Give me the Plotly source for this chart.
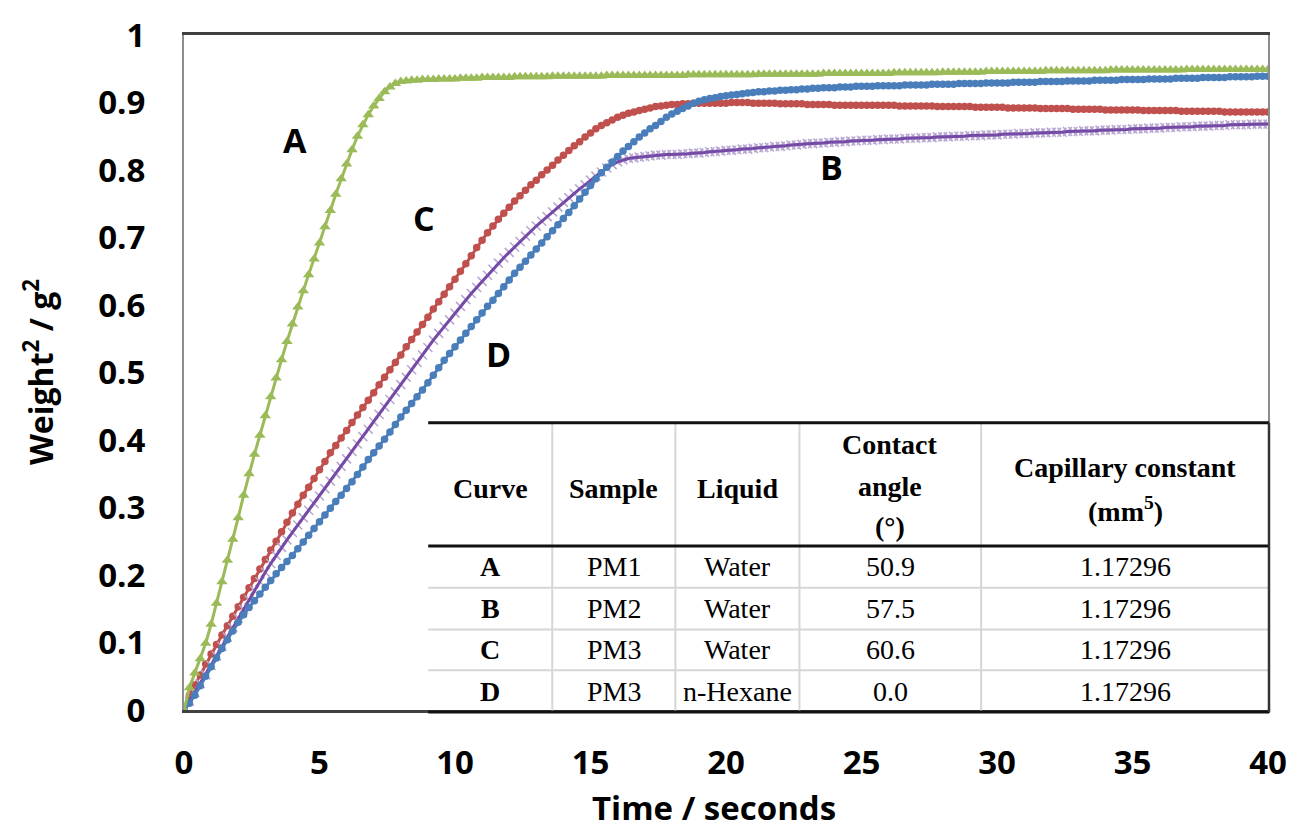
import plotly.graph_objects as go

# Sampling times (s), one reading every 0.2 s
time_s = [round(0.2 * i, 1) for i in range(201)]

# Weight^2 (g^2) readings for each curve
curve_a = [
    0.000, 0.033, 0.055, 0.076, 0.099, 0.127, 0.158, 0.190, 0.222, 0.253,
    0.285, 0.318, 0.350, 0.379, 0.407, 0.436, 0.464, 0.492, 0.519, 0.546,
    0.572, 0.597, 0.621, 0.645, 0.668, 0.692, 0.716, 0.740, 0.764, 0.787,
    0.809, 0.830, 0.850, 0.867, 0.882, 0.895, 0.906, 0.916, 0.923, 0.928,
    0.931, 0.932, 0.933, 0.933, 0.934, 0.934, 0.934, 0.935, 0.935, 0.935,
    0.935, 0.936, 0.936, 0.936, 0.936, 0.937, 0.937, 0.937, 0.937, 0.937,
    0.937, 0.938, 0.938, 0.938, 0.938, 0.938, 0.938, 0.938, 0.939, 0.939,
    0.939, 0.939, 0.939, 0.939, 0.939, 0.939, 0.939, 0.939, 0.940, 0.940,
    0.940, 0.940, 0.940, 0.940, 0.940, 0.940, 0.940, 0.940, 0.940, 0.940,
    0.940, 0.940, 0.940, 0.941, 0.941, 0.941, 0.941, 0.941, 0.941, 0.941,
    0.941, 0.941, 0.941, 0.941, 0.941, 0.941, 0.942, 0.942, 0.942, 0.942,
    0.942, 0.942, 0.942, 0.942, 0.942, 0.942, 0.942, 0.942, 0.943, 0.943,
    0.943, 0.943, 0.943, 0.943, 0.943, 0.943, 0.943, 0.943, 0.943, 0.943,
    0.943, 0.944, 0.944, 0.944, 0.944, 0.944, 0.944, 0.944, 0.944, 0.944,
    0.945, 0.945, 0.945, 0.945, 0.945, 0.945, 0.945, 0.945, 0.946, 0.946,
    0.946, 0.946, 0.946, 0.946, 0.946, 0.946, 0.946, 0.946, 0.946, 0.947,
    0.947, 0.947, 0.947, 0.947, 0.947, 0.947, 0.947, 0.947, 0.947, 0.947,
    0.947, 0.948, 0.948, 0.948, 0.948, 0.948, 0.948, 0.948, 0.948, 0.948,
    0.948, 0.948, 0.948, 0.948, 0.948, 0.949, 0.949, 0.949, 0.949, 0.949,
    0.949, 0.949, 0.949, 0.949, 0.949, 0.949, 0.949, 0.949, 0.949, 0.949,
    0.949,
]

curve_b = [
    0.000, 0.013, 0.026, 0.039, 0.052, 0.066, 0.080, 0.094, 0.108, 0.122,
    0.136, 0.149, 0.163, 0.177, 0.190, 0.204, 0.217, 0.229, 0.241, 0.252,
    0.263, 0.274, 0.285, 0.296, 0.306, 0.317, 0.328, 0.339, 0.350, 0.361,
    0.372, 0.383, 0.394, 0.405, 0.416, 0.427, 0.438, 0.449, 0.460, 0.471,
    0.482, 0.493, 0.504, 0.515, 0.526, 0.537, 0.548, 0.558, 0.568, 0.578,
    0.588, 0.598, 0.608, 0.617, 0.626, 0.635, 0.644, 0.653, 0.662, 0.670,
    0.678, 0.686, 0.694, 0.702, 0.710, 0.717, 0.724, 0.731, 0.738, 0.745,
    0.752, 0.759, 0.765, 0.772, 0.778, 0.785, 0.791, 0.797, 0.803, 0.808,
    0.812, 0.815, 0.817, 0.818, 0.819, 0.820, 0.821, 0.822, 0.822, 0.823,
    0.823, 0.823, 0.824, 0.824, 0.825, 0.825, 0.826, 0.827, 0.827, 0.828,
    0.829, 0.829, 0.830, 0.831, 0.831, 0.832, 0.833, 0.833, 0.834, 0.835,
    0.835, 0.836, 0.837, 0.837, 0.838, 0.839, 0.839, 0.840, 0.840, 0.841,
    0.841, 0.842, 0.842, 0.843, 0.843, 0.844, 0.844, 0.844, 0.845, 0.845,
    0.846, 0.846, 0.846, 0.847, 0.847, 0.847, 0.848, 0.848, 0.848, 0.849,
    0.849, 0.849, 0.850, 0.850, 0.850, 0.851, 0.851, 0.851, 0.852, 0.852,
    0.852, 0.853, 0.853, 0.853, 0.854, 0.854, 0.854, 0.855, 0.855, 0.855,
    0.856, 0.856, 0.856, 0.857, 0.857, 0.857, 0.858, 0.858, 0.858, 0.859,
    0.859, 0.859, 0.860, 0.860, 0.860, 0.861, 0.861, 0.861, 0.862, 0.862,
    0.862, 0.863, 0.863, 0.863, 0.864, 0.864, 0.864, 0.865, 0.865, 0.865,
    0.866, 0.866, 0.866, 0.867, 0.867, 0.867, 0.867, 0.868, 0.868, 0.868,
    0.868,
]

curve_c = [
    0.000, 0.022, 0.037, 0.052, 0.068, 0.083, 0.097, 0.111, 0.125, 0.139,
    0.153, 0.167, 0.181, 0.195, 0.209, 0.223, 0.237, 0.250, 0.264, 0.278,
    0.292, 0.305, 0.318, 0.330, 0.343, 0.356, 0.368, 0.381, 0.392, 0.403,
    0.414, 0.426, 0.437, 0.448, 0.459, 0.470, 0.482, 0.493, 0.504, 0.515,
    0.526, 0.538, 0.549, 0.560, 0.571, 0.582, 0.594, 0.605, 0.616, 0.627,
    0.638, 0.650, 0.661, 0.673, 0.685, 0.696, 0.707, 0.717, 0.727, 0.736,
    0.745, 0.754, 0.762, 0.770, 0.778, 0.785, 0.793, 0.800, 0.807, 0.815,
    0.822, 0.829, 0.836, 0.842, 0.849, 0.855, 0.861, 0.866, 0.870, 0.874,
    0.878, 0.881, 0.884, 0.886, 0.888, 0.890, 0.892, 0.894, 0.895, 0.896,
    0.897, 0.897, 0.898, 0.898, 0.899, 0.899, 0.899, 0.899, 0.899, 0.899,
    0.899, 0.900, 0.900, 0.900, 0.900, 0.899, 0.899, 0.899, 0.899, 0.899,
    0.898, 0.898, 0.898, 0.898, 0.898, 0.897, 0.897, 0.897, 0.897, 0.897,
    0.896, 0.896, 0.896, 0.896, 0.896, 0.896, 0.896, 0.896, 0.896, 0.896,
    0.896, 0.896, 0.895, 0.895, 0.895, 0.895, 0.895, 0.895, 0.895, 0.894,
    0.894, 0.894, 0.894, 0.894, 0.894, 0.894, 0.893, 0.893, 0.893, 0.893,
    0.893, 0.893, 0.892, 0.892, 0.892, 0.892, 0.892, 0.892, 0.891, 0.891,
    0.891, 0.891, 0.891, 0.891, 0.890, 0.890, 0.890, 0.890, 0.890, 0.890,
    0.889, 0.889, 0.889, 0.889, 0.889, 0.889, 0.889, 0.888, 0.888, 0.888,
    0.888, 0.888, 0.888, 0.888, 0.887, 0.887, 0.887, 0.887, 0.887, 0.887,
    0.887, 0.887, 0.886, 0.886, 0.886, 0.886, 0.886, 0.886, 0.886, 0.886,
    0.886,
]

curve_d = [
    0.000, 0.010, 0.022, 0.036, 0.050, 0.064, 0.077, 0.091, 0.104, 0.117,
    0.130, 0.141, 0.152, 0.162, 0.172, 0.182, 0.192, 0.202, 0.211, 0.220,
    0.229, 0.239, 0.249, 0.259, 0.269, 0.279, 0.289, 0.299, 0.309, 0.318,
    0.328, 0.338, 0.349, 0.360, 0.371, 0.381, 0.391, 0.401, 0.412, 0.423,
    0.434, 0.444, 0.454, 0.464, 0.474, 0.485, 0.496, 0.507, 0.518, 0.528,
    0.538, 0.548, 0.558, 0.568, 0.578, 0.588, 0.598, 0.607, 0.617, 0.627,
    0.637, 0.647, 0.656, 0.665, 0.674, 0.683, 0.692, 0.701, 0.710, 0.719,
    0.728, 0.737, 0.747, 0.757, 0.767, 0.777, 0.787, 0.796, 0.804, 0.812,
    0.820, 0.828, 0.835, 0.842, 0.849, 0.855, 0.861, 0.866, 0.872, 0.878,
    0.883, 0.887, 0.891, 0.895, 0.899, 0.902, 0.904, 0.906, 0.907, 0.909,
    0.910, 0.911, 0.912, 0.913, 0.914, 0.915, 0.916, 0.916, 0.917, 0.917,
    0.918, 0.918, 0.919, 0.919, 0.920, 0.920, 0.921, 0.921, 0.922, 0.922,
    0.922, 0.923, 0.923, 0.923, 0.924, 0.924, 0.924, 0.924, 0.925, 0.925,
    0.925, 0.925, 0.925, 0.926, 0.926, 0.926, 0.926, 0.926, 0.927, 0.927,
    0.927, 0.927, 0.927, 0.928, 0.928, 0.928, 0.928, 0.928, 0.929, 0.929,
    0.929, 0.929, 0.929, 0.930, 0.930, 0.930, 0.930, 0.930, 0.931, 0.931,
    0.931, 0.931, 0.931, 0.932, 0.932, 0.932, 0.932, 0.932, 0.933, 0.933,
    0.933, 0.933, 0.933, 0.934, 0.934, 0.934, 0.934, 0.934, 0.935, 0.935,
    0.935, 0.935, 0.935, 0.936, 0.936, 0.936, 0.936, 0.936, 0.937, 0.937,
    0.937, 0.937, 0.937, 0.938, 0.938, 0.938, 0.938, 0.938, 0.939, 0.939,
    0.939,
]

# Curve labels placed beside each curve (time, weight^2)
label_names = ["A", "B", "C", "D"]
label_time = [4.1, 23.9, 8.85, 11.6]
label_weight = [0.845, 0.805, 0.729, 0.527]

# Inset table contents
table_header = [
    ["Curve"],
    ["Sample"],
    ["Liquid"],
    ["Contact", "angle", "(°)"],
    ["Capillary constant", "(mm<sup>5</sup>)"],
]
table_curve = ["A", "B", "C", "D"]
table_sample = ["PM1", "PM2", "PM3", "PM3"]
table_liquid = ["Water", "Water", "Water", "n-Hexane"]
table_angle = ["50.9", "57.5", "60.6", "0.0"]
table_capillary = ["1.17296", "1.17296", "1.17296", "1.17296"]

GREEN = "#9BBB59"
RED = "#C0504D"
BLUE = "#4A7EBB"
PURPLE = "#7549A6"
PURPLE_LIGHT = "#B9A8D2"

fig = go.Figure()

fig.add_trace(go.Scatter(
    x=time_s, y=curve_c, mode="lines+markers", name="C",
    line=dict(color=RED, width=3),
    marker=dict(symbol="circle", size=7.5, color=RED),
))
fig.add_trace(go.Scatter(
    x=time_s, y=curve_b, mode="markers", name="B markers",
    marker=dict(symbol="x-thin", size=9, color=PURPLE_LIGHT,
                line=dict(color=PURPLE_LIGHT, width=1.6)),
))
fig.add_trace(go.Scatter(
    x=time_s, y=curve_b, mode="lines", name="B",
    line=dict(color=PURPLE, width=3),
))
fig.add_trace(go.Scatter(
    x=time_s, y=curve_d, mode="lines+markers", name="D",
    line=dict(color=BLUE, width=3),
    marker=dict(symbol="circle", size=7.5, color=BLUE),
))
fig.add_trace(go.Scatter(
    x=time_s, y=curve_a, mode="lines+markers", name="A",
    line=dict(color=GREEN, width=3),
    marker=dict(symbol="triangle-up", size=10, color=GREEN),
))

# Plot-area geometry in pixels (used to place the inset table)
L, R, T, B = 184, 1276, 31, 710


def px_x(px):
    return (px - L) / (R - L)


def px_y(py):
    return (B - py) / (B - T)


annotations = []
label_font = dict(family="Open Sans", size=34, color="black", weight="bold")
for name, tx, wy in zip(label_names, label_time, label_weight):
    annotations.append(dict(x=tx, y=wy, xref="x", yref="y", text=name,
                            showarrow=False, font=label_font))

# Axis titles
title_font = dict(family="Open Sans", size=33, color="black", weight="bold")
annotations.append(dict(x=px_x(718), y=px_y(808), xref="paper", yref="paper",
                        text="Time / seconds", showarrow=False, font=title_font,
                        xanchor="center", yanchor="middle"))
annotations.append(dict(x=px_x(37), y=px_y(370), xref="paper", yref="paper",
                        text="Weight<sup>2</sup> / g<sup>2</sup>", textangle=-90,
                        showarrow=False,
                        font=dict(family="Open Sans", size=32, color="black",
                                  weight="bold"),
                        xanchor="center", yanchor="middle"))

# Table layout (pixel positions of grid lines)
col_edges = [430, 555, 679, 804, 987, 1277]
row_edges = [421, 545, 587, 629, 670, 712]
header_line_y = {1: [487], 2: [466, 508], 3: [443, 485, 525]}

serif_bold = dict(family="Liberation Serif", size=28, color="black", weight="bold")
serif = dict(family="Liberation Serif", size=28, color="black")

shapes = []
# white backing for the table
shapes.append(dict(type="rect", xref="paper", yref="paper",
                   x0=px_x(col_edges[0]), x1=px_x(col_edges[-1]),
                   y0=px_y(row_edges[-1]), y1=px_y(row_edges[0]),
                   fillcolor="white", line=dict(width=0), layer="below"))
# light inner grid
for cx in col_edges[1:-1]:
    shapes.append(dict(type="line", xref="paper", yref="paper",
                       x0=px_x(cx), x1=px_x(cx),
                       y0=px_y(row_edges[0]), y1=px_y(row_edges[-1]),
                       line=dict(color="#D6D6D6", width=2)))
for ry in row_edges[2:-1]:
    shapes.append(dict(type="line", xref="paper", yref="paper",
                       x0=px_x(col_edges[0]), x1=px_x(col_edges[-1]),
                       y0=px_y(ry), y1=px_y(ry),
                       line=dict(color="#D6D6D6", width=2)))
# heavy rules
for ry in (row_edges[0], row_edges[1], row_edges[-1]):
    shapes.append(dict(type="line", xref="paper", yref="paper",
                       x0=px_x(col_edges[0]), x1=px_x(col_edges[-1]),
                       y0=px_y(ry), y1=px_y(ry),
                       line=dict(color="#111111", width=3)))
shapes.append(dict(type="line", xref="paper", yref="paper",
                   x0=px_x(col_edges[-1]), x1=px_x(col_edges[-1]),
                   y0=px_y(row_edges[0]), y1=px_y(row_edges[-1]),
                   line=dict(color="#333333", width=2.5)))

col_centers = [(a + b) / 2 for a, b in zip(col_edges[:-1], col_edges[1:])]
for cx, lines in zip(col_centers, table_header):
    for text, ly in zip(lines, header_line_y[len(lines)]):
        annotations.append(dict(x=px_x(cx), y=px_y(ly), xref="paper", yref="paper",
                                text=text, showarrow=False, font=serif_bold,
                                xanchor="center", yanchor="middle"))

body_columns = [table_curve, table_sample, table_liquid, table_angle, table_capillary]
for ci, (cx, column) in enumerate(zip(col_centers, body_columns)):
    for ri, text in enumerate(column):
        cy = (row_edges[ri + 1] + row_edges[ri + 2]) / 2
        annotations.append(dict(x=px_x(cx), y=px_y(cy), xref="paper", yref="paper",
                                text=text, showarrow=False,
                                font=serif_bold if ci == 0 else serif,
                                xanchor="center", yanchor="middle"))

tick_font = dict(family="Open Sans", size=33, color="black", weight="bold")

fig.update_layout(
    width=1299, height=829,
    margin=dict(l=L, r=1299 - R, t=T, b=829 - B),
    paper_bgcolor="white", plot_bgcolor="white",
    showlegend=False,
    xaxis=dict(range=[0, 40], dtick=5, tick0=0, showgrid=False, zeroline=False,
               showline=True, linecolor="#404040", linewidth=2.5, mirror=True,
               ticks="", tickfont=tick_font, ticklabelstandoff=22),
    yaxis=dict(range=[0, 1], dtick=0.1, tick0=0, showgrid=False, zeroline=False,
               showline=True, linecolor="#8C8C8C", linewidth=2, mirror=True,
               ticks="", tickfont=tick_font, ticklabelstandoff=30,
               tickformat=".1~f"),
    annotations=annotations,
    shapes=shapes,
)

fig.write_html("out.html")
